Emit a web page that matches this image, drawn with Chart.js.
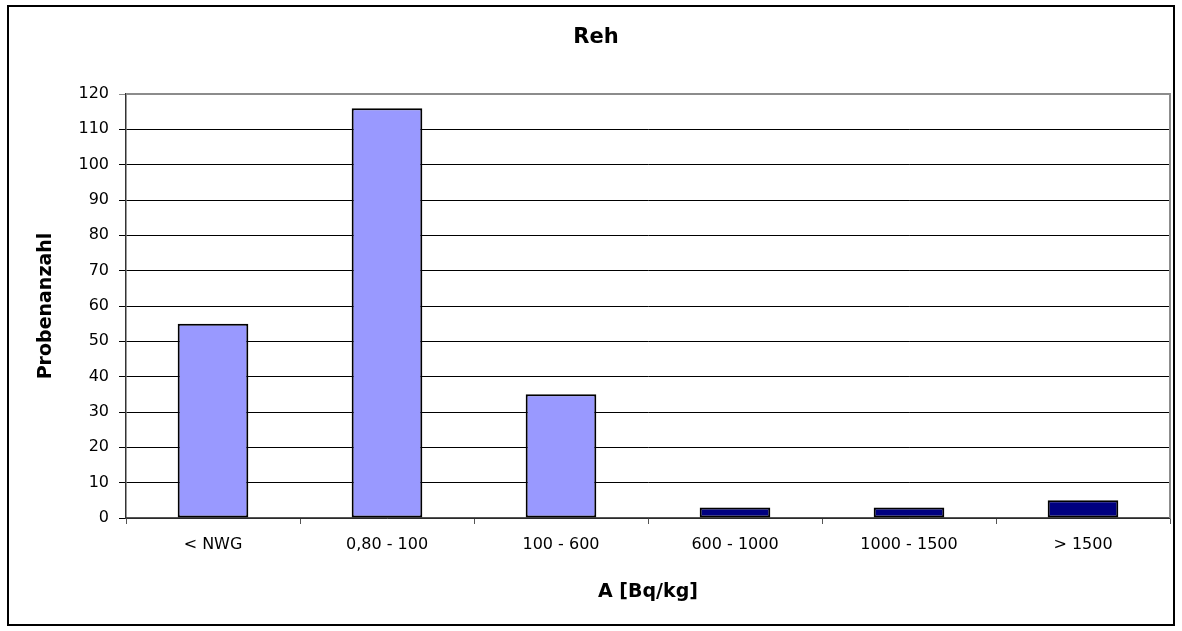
<!DOCTYPE html>
<html>
<head>
<meta charset="utf-8">
<title>Reh</title>
<script src="https://cdn.jsdelivr.net/npm/chart.js@4.4.1/dist/chart.umd.min.js"></script>
<style>
  html, body { margin: 0; padding: 0; background: #ffffff; }
  #wrap { width: 1182px; height: 631px; }
</style>
</head>
<body>
<div id="wrap"><canvas id="chart" width="1182" height="631"></canvas></div>
<script>
// Activity classes (Bq/kg) and number of samples in each class
const categories = ['< NWG', '0,80 - 100', '100 - 600', '600 - 1000', '1000 - 1500', '> 1500'];
const sampleCounts = [55, 116, 35, 3, 3, 5];
const yTicks = { min: 0, max: 120, step: 10 };

// Light fill below 600 Bq/kg, dark fill above
const lightFill = '#9999FF';
const darkFill = '#000080';
const barFills = categories.map((c, i) => (i < 3 ? lightFill : darkFill));

const FONT = "'DejaVu Sans', 'Liberation Sans', Arial, sans-serif";

// White page with a black frame around the whole chart, and a grey plot frame
const framePlugin = {
  id: 'frames',
  beforeDraw(chart) {
    const ctx = chart.ctx;
    ctx.save();
    ctx.fillStyle = '#ffffff';
    ctx.fillRect(0, 0, chart.width, chart.height);
    ctx.strokeStyle = '#000000';
    ctx.lineWidth = 2;
    ctx.strokeRect(8, 6, 1166, 619);
    ctx.restore();
  },
  afterDatasetsDraw(chart) {
    const a = chart.chartArea;
    const ctx = chart.ctx;
    ctx.save();
    ctx.strokeStyle = '#8c8c8c';
    ctx.lineWidth = 2;
    ctx.beginPath();
    ctx.moveTo(a.left, a.top);
    ctx.lineTo(a.right, a.top);
    ctx.lineTo(a.right, a.bottom);
    ctx.stroke();
    ctx.restore();
  }
};

new Chart(document.getElementById('chart'), {
  type: 'bar',
  data: {
    labels: categories,
    datasets: [{
      data: sampleCounts,
      backgroundColor: barFills,
      borderColor: '#000000',
      borderWidth: 2,
      borderSkipped: false,
      barPercentage: 0.406,
      categoryPercentage: 1.0
    }]
  },
  options: {
    responsive: false,
    animation: false,
    layout: { padding: { top: 0, left: 22, right: 12, bottom: 0 } },
    plugins: {
      legend: { display: false },
      tooltip: { enabled: false },
      title: {
        display: true,
        text: 'Reh',
        color: '#000000',
        font: { family: FONT, size: 21, weight: 'bold' },
        padding: { top: 25.4, bottom: 43.4 }
      }
    },
    scales: {
      x: {
        afterFit(scale) { scale.height = 113; },
        grid: {
          offset: true,
          drawOnChartArea: false,
          drawTicks: true,
          tickLength: 6,
          color: '#555555',
          lineWidth: 1
        },
        border: { display: true, color: '#555555', width: 1.5 },
        ticks: {
          color: '#000000',
          padding: 11,
          font: { family: FONT, size: 16 }
        },
        title: {
          display: true,
          text: 'A [Bq/kg]',
          color: '#000000',
          font: { family: FONT, size: 19, weight: 'bold' },
          padding: { top: 0, bottom: 27.6 }
        }
      },
      y: {
        min: yTicks.min,
        max: yTicks.max,
        afterFit(scale) { scale.width = 104; },
        grid: {
          drawTicks: true,
          tickLength: 7,
          color: (c) => (c.tick && c.tick.value === yTicks.max ? '#8c8c8c' : '#000000'),
          lineWidth: 1
        },
        border: { display: true, color: '#333333', width: 1.5 },
        ticks: {
          stepSize: yTicks.step,
          color: '#000000',
          padding: 10,
          font: { family: FONT, size: 16 }
        },
        title: {
          display: true,
          text: 'Probenanzahl',
          color: '#000000',
          font: { family: FONT, size: 19, weight: 'bold' },
          padding: { top: 12.6, bottom: 0 }
        }
      }
    }
  },
  plugins: [framePlugin]
});
</script>
</body>
</html>
